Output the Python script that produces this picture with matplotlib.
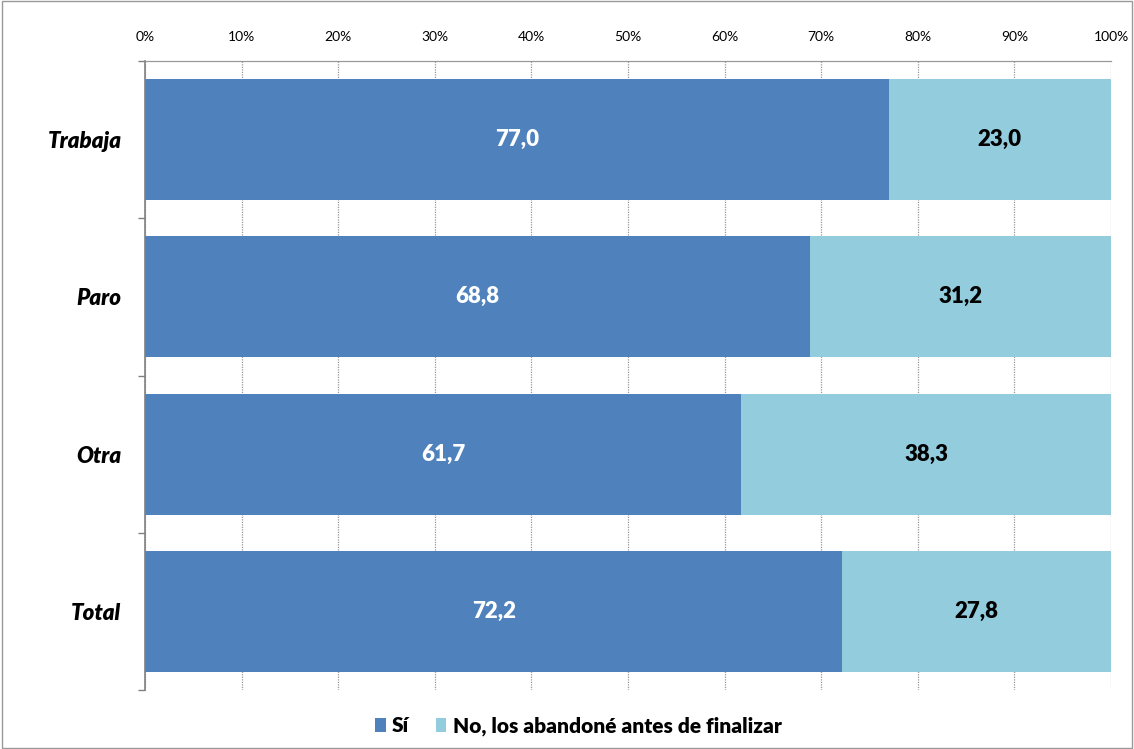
import matplotlib
matplotlib.use("Agg")
import matplotlib.pyplot as plt
from matplotlib.patches import Rectangle
from matplotlib.ticker import FixedLocator, PercentFormatter

categories = ["Trabaja", "Paro", "Otra", "Total"]
si = [77.0, 68.8, 61.7, 72.2]
no = [23.0, 31.2, 38.3, 27.8]
series_names = ["Sí", "No, los abandoné antes de finalizar"]
colors = ["#4F81BD", "#93CDDD"]

plt.rcParams['font.family'] = ['Lato', 'DejaVu Sans']

fig = plt.figure(figsize=(11.34, 7.49), dpi=100)
ax = fig.add_axes([145/1134, 1-690/749, (1111-145)/1134, (690-61)/749])

y = list(range(len(categories)))
h = 0.77
b1 = ax.barh(y, si, height=h, color=colors[0], label=series_names[0])
b2 = ax.barh(y, no, left=si, height=h, color=colors[1], label=series_names[1])

for i in range(len(categories)):
    ax.text(si[i]/2, y[i], f"{si[i]:.1f}".replace(".", ","), ha="center", va="center",
            color="white", fontsize=16, fontweight="heavy")
    ax.text(si[i] + no[i]/2, y[i], f"{no[i]:.1f}".replace(".", ","), ha="center", va="center",
            color="black", fontsize=16, fontweight="heavy")

ax.set_xlim(0, 100)
ax.set_ylim(len(categories)-0.5, -0.5)
ax.xaxis.set_major_locator(FixedLocator(range(0, 101, 10)))
ax.xaxis.set_major_formatter(PercentFormatter(decimals=0))
ax.xaxis.tick_top()
ax.tick_params(axis="x", length=0, labelsize=10, pad=13)
ax.grid(axis="x", color="#999999", linestyle=(0, (1, 1)), linewidth=0.9)
ax.set_axisbelow(True)

ax.set_yticks(y)
ax.set_yticklabels(categories, fontsize=16, fontweight="heavy", fontstyle="italic")
ax.tick_params(axis="y", which="major", length=0, pad=17)
ax.set_yticks([i - 0.5 for i in range(len(categories)+1)], minor=True)
ax.tick_params(axis="y", which="minor", length=5, color="#808080", width=1)

for s in ["right", "bottom"]:
    ax.spines[s].set_visible(False)
ax.spines["top"].set_color("#999999")
ax.spines["top"].set_linestyle((0, (1, 1)))
ax.spines["top"].set_linewidth(0.9)
ax.spines["left"].set_color("#808080")
ax.spines["left"].set_linewidth(1.2)

leg = fig.legend(handles=[b1, b2], loc="center", bbox_to_anchor=(0.51, 1-726/749), ncol=2,
                 frameon=False, prop={"size": 15, "weight": "heavy"},
                 handlelength=0.5, handleheight=0.7, handletextpad=0.3, columnspacing=1.3)

fig.patches.append(Rectangle((0.002, 0.002), 0.996, 0.996, transform=fig.transFigure,
                             fill=False, edgecolor="#999999", linewidth=1))

fig.savefig("out.png", dpi=100)
